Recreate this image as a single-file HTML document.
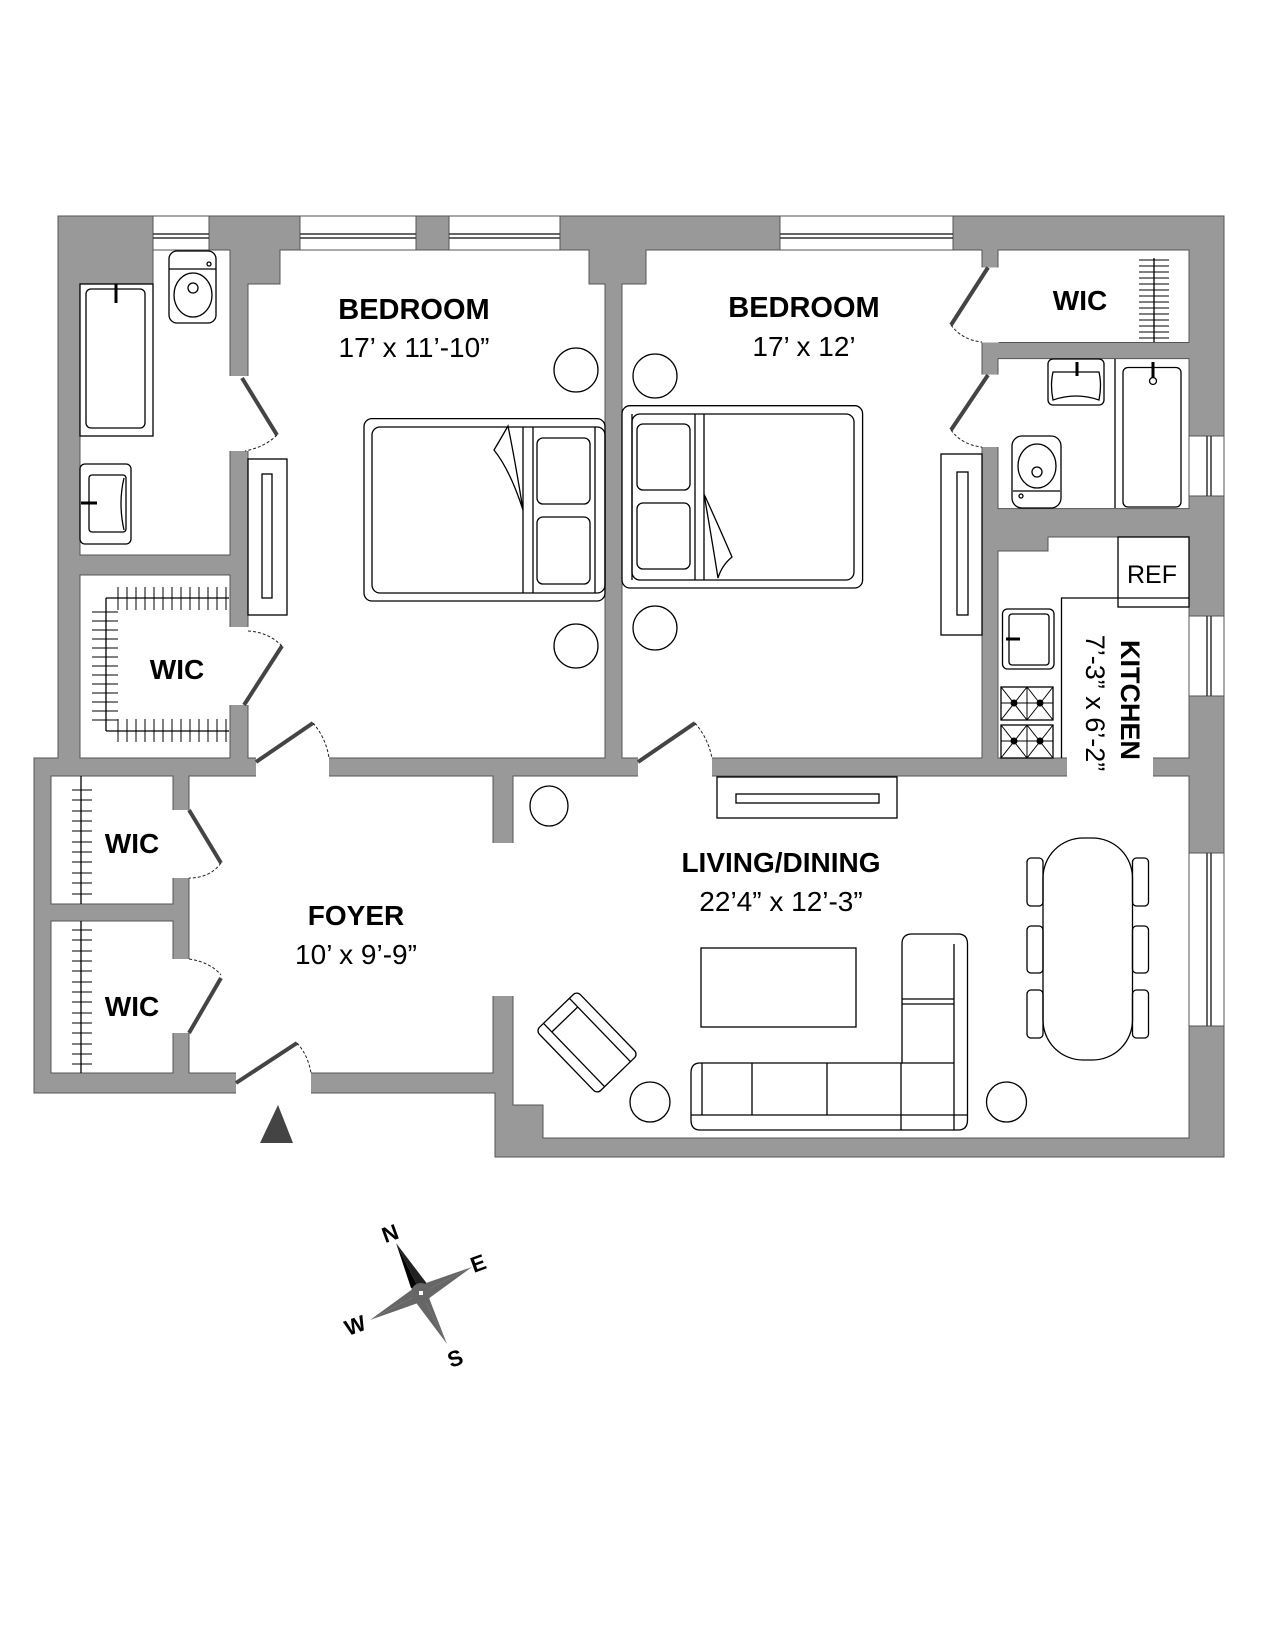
<!DOCTYPE html>
<html><head><meta charset="utf-8"><style>
html,body{margin:0;padding:0;background:#fff;}
svg{display:block;}
text{font-family:"Liberation Sans",Arial,sans-serif;fill:#000;}
.b{font-weight:bold;}
</style></head><body>
<svg width="1275" height="1650" viewBox="0 0 1275 1650" xmlns="http://www.w3.org/2000/svg">
<polygon points="58,216 1224,216 1224,1157 495,1157 495,1093 34,1093 34,758 58,758" fill="#999" stroke="#555" stroke-width="1"/>
<g fill="#fff" stroke="#555" stroke-width="1">
<polygon points="80,284 153,284 153,250 230,250 230,555 80,555"/>
<rect x="80" y="575" width="150" height="183"/>
<polygon points="280,250 589,250 589,284 605,284 605,758 248,758 248,284 280,284"/>
<polygon points="646,250 982,250 982,758 622,758 622,284 646,284"/>
<rect x="998" y="250" width="191" height="92.5"/>
<rect x="998" y="358.6" width="191" height="150"/>
<polygon points="998,551 1048,551 1048,537 1189,537 1189,758 998,758"/>
<rect x="189" y="776" width="304" height="297"/>
<rect x="51" y="776" width="122" height="128"/>
<rect x="51" y="921" width="122" height="152"/>
<polygon points="513,776 1189,776 1189,1138 543,1138 543,1105 513,1105"/>
</g>
<g fill="#fff">
<rect x="229" y="376" width="20" height="75"/>
<rect x="229" y="627" width="20" height="78"/>
<rect x="981" y="267.5" width="18" height="75"/>
<rect x="981" y="374.6" width="18" height="72.4"/>
<rect x="1067" y="757" width="86" height="20"/>
<rect x="172" y="810" width="18" height="68"/>
<rect x="172" y="959" width="18" height="74"/>
<rect x="492" y="843" width="22" height="153"/>
<rect x="256" y="757" width="73" height="20"/>
<rect x="638" y="757" width="74" height="20"/>
<rect x="236" y="1072" width="75" height="22"/>
</g>
<g fill="#fff" stroke="#555" stroke-width="1">
<rect x="153" y="216" width="56" height="34"/>
<rect x="300" y="216" width="116" height="34"/>
<rect x="449" y="216" width="111" height="34"/>
<rect x="780" y="216" width="173" height="34"/>
<rect x="1189" y="436" width="35" height="60"/>
<rect x="1189" y="616" width="35" height="80"/>
<rect x="1189" y="853" width="35" height="173"/>
</g>
<g stroke="#333" stroke-width="1.5">
<line x1="153" y1="234" x2="209" y2="234"/><line x1="153" y1="238" x2="209" y2="238"/>
<line x1="300" y1="234" x2="416" y2="234"/><line x1="300" y1="238" x2="416" y2="238"/>
<line x1="449" y1="234" x2="560" y2="234"/><line x1="449" y1="238" x2="560" y2="238"/>
<line x1="780" y1="234" x2="953" y2="234"/><line x1="780" y1="238" x2="953" y2="238"/>
<line x1="1207" y1="436" x2="1207" y2="496"/><line x1="1211" y1="436" x2="1211" y2="496"/>
<line x1="1207" y1="616" x2="1207" y2="696"/><line x1="1211" y1="616" x2="1211" y2="696"/>
<line x1="1207" y1="853" x2="1207" y2="1026"/><line x1="1211" y1="853" x2="1211" y2="1026"/>
</g>
<g stroke="#444" stroke-width="4" stroke-linecap="butt">
<line x1="242" y1="378" x2="277" y2="435"/>
<line x1="244" y1="705" x2="282" y2="646"/>
<line x1="988" y1="267.5" x2="951" y2="325"/>
<line x1="988" y1="375" x2="951" y2="430"/>
<line x1="256" y1="762" x2="313" y2="723"/>
<line x1="638" y1="762" x2="695" y2="723"/>
<line x1="189" y1="810" x2="221" y2="863"/>
<line x1="221" y1="978" x2="189" y2="1033"/>
<line x1="236" y1="1083" x2="297" y2="1043"/>
</g>
<g fill="none" stroke="#222" stroke-width="1" stroke-dasharray="3,2">
<path d="M277,435 Q265,447 245,451"/>
<path d="M282,646 Q268,632 248,631"/>
<path d="M951,325 Q962,340 982,342"/>
<path d="M951,430 Q962,445 982,447"/>
<path d="M313,723 Q326,738 329,758"/>
<path d="M695,723 Q708,738 712,758"/>
<path d="M221,863 Q210,878 189,878"/>
<path d="M189,959 Q210,962 221,975"/>
<path d="M297,1043 Q308,1055 311,1073"/>
</g>
<g fill="none" stroke="#000" stroke-width="1.3">
<rect x="80" y="284" width="73" height="152"/>
<rect x="86" y="289" width="59" height="139" rx="5"/>
<rect x="169" y="251" width="47" height="72" rx="8"/>
<line x1="169" y1="269" x2="216" y2="269"/>
<ellipse cx="193" cy="295" rx="19" ry="22"/>
<circle cx="193" cy="288" r="5"/>
<circle cx="209" cy="264" r="2"/>
<rect x="80" y="464" width="51" height="80" rx="5"/>
<rect x="89" y="475" width="37" height="57" rx="3"/>
<path d="M124,478 Q118,503 124,530"/>
<line x1="106" y1="598" x2="229" y2="598"/>
<line x1="106" y1="598" x2="106" y2="731"/>
<line x1="106" y1="731" x2="229" y2="731"/>
<rect x="364" y="418.6" width="241" height="182.4" rx="8"/>
<rect x="372" y="427" width="233" height="166" rx="8"/>
<line x1="523" y1="427" x2="523" y2="593"/><line x1="533" y1="427" x2="533" y2="593"/>
<line x1="595" y1="427" x2="595" y2="593"/>
<rect x="537" y="438" width="53" height="66" rx="6"/>
<rect x="537" y="517" width="53" height="67" rx="6"/>
<path d="M523,510 Q515,460 508,426 Q500,440 494,450 Q510,470 523,510"/>
<ellipse cx="576" cy="370" rx="22" ry="22"/>
<ellipse cx="576" cy="646" rx="22" ry="22"/>
<rect x="248" y="459" width="39" height="156"/>
<rect x="262" y="474" width="10" height="124"/>
<rect x="622" y="405.7" width="240.6" height="182.3" rx="8"/>
<rect x="632" y="414" width="222" height="166" rx="8"/>
<line x1="632" y1="414" x2="632" y2="580"/>
<line x1="695" y1="414" x2="695" y2="580"/><line x1="704" y1="414" x2="704" y2="580"/>
<rect x="637" y="424" width="53" height="66" rx="6"/>
<rect x="637" y="503" width="53" height="66" rx="6"/>
<path d="M704,494 Q712,540 718,578 Q722,565 732,557 Q716,520 704,494"/>
<ellipse cx="655" cy="376" rx="22" ry="22"/>
<ellipse cx="655" cy="628" rx="22" ry="22"/>
<rect x="941" y="454" width="41" height="181"/>
<rect x="957" y="472" width="11" height="143"/>
<line x1="1154" y1="258" x2="1154" y2="342"/>
<rect x="1048" y="359" width="56" height="46" rx="5"/>
<path d="M1053,372 L1099,372 Q1102,385 1099,400 Q1076,392 1053,400 Q1050,385 1053,372Z"/>
<line x1="1115" y1="359" x2="1115" y2="508"/>
<rect x="1123" y="367.5" width="58" height="139.5" rx="5"/>
<circle cx="1153" cy="381" r="3.5"/>
<rect x="1012" y="436" width="49" height="72" rx="10"/>
<line x1="1013" y1="491" x2="1060" y2="491"/>
<ellipse cx="1037" cy="466" rx="19" ry="22"/>
<circle cx="1037" cy="472" r="5"/>
<circle cx="1021" cy="496" r="2"/>
<rect x="1118" y="537" width="71" height="70"/>
<polyline points="1061.5,758 1061.5,598 1189,598"/>
<rect x="1002.5" y="609" width="51.5" height="60" rx="5"/>
<rect x="1009" y="614" width="40" height="51" rx="3"/>
<rect x="1001" y="687" width="52" height="33"/>
<rect x="1001" y="725" width="52" height="33"/>
<rect x="717" y="777" width="180" height="41"/>
<rect x="736" y="794" width="143" height="9"/>
<ellipse cx="549" cy="806" rx="19" ry="20"/>
<rect x="1043" y="838" width="89.5" height="222" rx="40"/>
<rect x="1027" y="858" width="16" height="48" rx="4"/>
<rect x="1027" y="926" width="16" height="47" rx="4"/>
<rect x="1027" y="990" width="16" height="48" rx="4"/>
<rect x="1132.5" y="858" width="16" height="48" rx="4"/>
<rect x="1132.5" y="926" width="16" height="47" rx="4"/>
<rect x="1132.5" y="990" width="16" height="48" rx="4"/>
<rect x="701" y="948" width="155" height="79"/>
<path d="M902,944 Q902,934 912,934 L958,934 Q967.5,934 967.5,944 L967.5,1120 Q967.5,1130 958,1130 L700,1130 Q691,1130 691,1120 L691,1073 Q691,1063 700,1063 L902,1063 Z"/>
<line x1="954" y1="944" x2="954" y2="1130"/>
<line x1="902" y1="999" x2="954" y2="999"/><line x1="902" y1="1004" x2="954" y2="1004"/>
<line x1="902" y1="1063" x2="954" y2="1063"/>
<line x1="691" y1="1115" x2="967" y2="1115"/>
<line x1="702" y1="1063" x2="702" y2="1115"/>
<line x1="752" y1="1063" x2="752" y2="1115"/>
<line x1="827" y1="1063" x2="827" y2="1115"/>
<line x1="901" y1="1063" x2="901" y2="1130"/>
<g transform="translate(587,1042.5) rotate(46)">
<rect x="-44" y="-28.5" width="88" height="57" rx="5"/>
<line x1="-44" y1="-18" x2="44" y2="-18"/>
<line x1="-44" y1="18" x2="44" y2="18"/>
<line x1="-32" y1="-18" x2="-32" y2="18"/>
</g>
<ellipse cx="650" cy="1102" rx="20" ry="20"/>
<ellipse cx="1006.5" cy="1102" rx="20" ry="20"/>
<line x1="81" y1="776" x2="81" y2="904"/>
<line x1="81" y1="921" x2="81" y2="1073"/>
</g>
<g stroke="#000" stroke-width="3">
<line x1="81" y1="503" x2="97" y2="503"/>
<line x1="116" y1="284" x2="116" y2="303"/>
<line x1="1077" y1="362" x2="1077" y2="376"/>
<line x1="1153" y1="362" x2="1153" y2="378"/>
<line x1="1006" y1="639" x2="1020" y2="639"/>
</g>
<g stroke="#000" stroke-width="1">
<path d="M118,587v23M127,587v23M136,587v23M145,587v23M154,587v23M163,587v23M172,587v23M181,587v23M190,587v23M199,587v23M208,587v23M217,587v23M226,587v23"/>
<path d="M92,612h26M92,621h26M92,630h26M92,639h26M92,648h26M92,657h26M92,666h26M92,675h26M92,684h26M92,693h26M92,702h26M92,711h26M92,720h26"/>
<path d="M118,719v23M127,719v23M136,719v23M145,719v23M154,719v23M163,719v23M172,719v23M181,719v23M190,719v23M199,719v23M208,719v23M217,719v23M226,719v23"/>
<path d="M1139,260h30M1139,266h30M1139,272h30M1139,278h30M1139,284h30M1139,290h30M1139,296h30M1139,302h30M1139,308h30M1139,314h30M1139,320h30M1139,326h30M1139,332h30M1139,338h30"/>
<path d="M72,790h20M72,800h20M72,811h20M72,821h20M72,831h20M72,842h20M72,852h20M72,862h20M72,873h20M72,883h20M72,894h20"/>
<path d="M72,930h20M72,940h20M72,951h20M72,961h20M72,971h20M72,982h20M72,992h20M72,1002h20M72,1013h20M72,1023h20M72,1033h20M72,1044h20M72,1054h20M72,1064h20"/>
<path d="M1001,687l26,33M1027,687l-26,33M1027,687l26,33M1053,687l-26,33M1001,725l26,33M1027,725l-26,33M1027,725l26,33M1053,725l-26,33M1027,687v33M1027,725v33M1001,703h52M1001,741h52"/>
</g>
<g fill="#000">
<circle cx="1014" cy="703" r="3.5"/><circle cx="1040" cy="703" r="3.5"/>
<circle cx="1014" cy="741" r="3.5"/><circle cx="1040" cy="741" r="3.5"/>
</g>
<polygon points="260,1143 293,1143 278,1105" fill="#444"/>
<g>
<polygon points="396,1243 421,1293 411,1288" fill="#000"/>
<polygon points="396,1243 421,1293 428,1285" fill="#222"/>
<polygon points="472,1267 421,1293 426,1283" fill="#666"/>
<polygon points="472,1267 421,1293 428,1299" fill="#666"/>
<polygon points="370,1320 421,1293 414,1288" fill="#666"/>
<polygon points="370,1320 421,1293 418,1303" fill="#666"/>
<polygon points="447,1344 421,1293 429,1298" fill="#666"/>
<polygon points="447,1344 421,1293 414,1300" fill="#666"/>
<circle cx="421" cy="1293" r="10" fill="#666"/>
<rect x="419" y="1291" width="4" height="4" fill="#fff"/>
</g>
<g font-size="22" class="b">
<text x="390" y="1241" text-anchor="middle" transform="rotate(-20 390 1233)" class="b">N</text>
<text x="478" y="1271" text-anchor="middle" transform="rotate(-20 478 1263)" class="b">E</text>
<text x="355" y="1333" text-anchor="middle" transform="rotate(-20 355 1325)" class="b">W</text>
<text x="455" y="1366" text-anchor="middle" transform="rotate(-20 455 1358)" class="b">S</text>
</g>
<g text-anchor="middle">
<text x="414" y="319" font-size="29" class="b">BEDROOM</text>
<text x="414" y="357" font-size="28">17’ x 11’-10”</text>
<text x="804" y="317" font-size="29" class="b">BEDROOM</text>
<text x="804" y="356" font-size="28">17’ x 12’</text>
<text x="1080" y="310" font-size="28" class="b">WIC</text>
<text x="177" y="679" font-size="28" class="b">WIC</text>
<text x="132" y="853" font-size="28" class="b">WIC</text>
<text x="132" y="1016" font-size="28" class="b">WIC</text>
<text x="1152" y="583" font-size="25">REF</text>
<text x="356" y="925" font-size="28" class="b">FOYER</text>
<text x="356" y="964" font-size="28">10’ x 9’-9”</text>
<text x="781" y="872" font-size="28" class="b">LIVING/DINING</text>
<text x="781" y="911" font-size="28">22’4” x 12’-3”</text>
<text x="0" y="0" font-size="27" class="b" transform="translate(1121,700) rotate(90)">KITCHEN</text>
<text x="0" y="0" font-size="27" transform="translate(1086,703) rotate(90)">7’-3” x 6’-2”</text>
</g>
</svg>
</body></html>
